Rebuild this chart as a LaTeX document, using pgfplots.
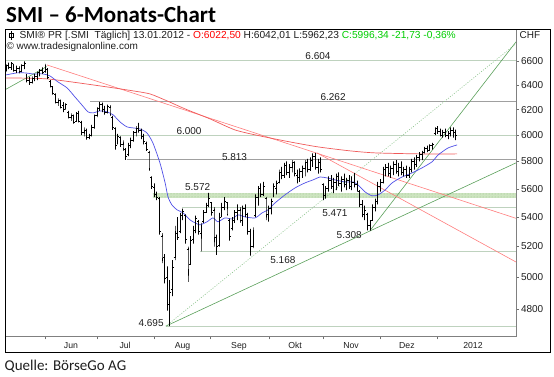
\documentclass[border=0pt]{standalone}
\usepackage{fontspec}
\setmainfont{Liberation Sans}
\newfontfamily\carlito{Carlito}
\usepackage{pgfplots}
\usepackage{pgfplotstable}
\pgfplotsset{compat=1.18}
\usetikzlibrary{patterns}

\definecolor{frameGray}{RGB}{128,128,128}
\definecolor{tickGray}{RGB}{110,110,110}
\definecolor{lvlDark}{RGB}{160,160,160}
\definecolor{lvlLight}{RGB}{190,210,190}
\definecolor{maBlue}{RGB}{80,80,230}
\definecolor{maRed}{RGB}{240,90,90}
\definecolor{trRed}{RGB}{255,125,125}
\definecolor{trGreen}{RGB}{90,160,90}
\definecolor{dotGreen}{RGB}{140,195,140}
\definecolor{bandGreen}{RGB}{205,228,192}
\definecolor{bandDot}{RGB}{150,192,140}
\definecolor{hdrRed}{RGB}{255,0,0}
\definecolor{hdrGreen}{RGB}{0,205,0}
\definecolor{txt}{RGB}{30,30,30}

\pgfplotstableread{
d o h l c
0 6520 6570 6510 6560
1 6560 6585 6530 6545
2 6545 6590 6525 6580
3 6570 6575 6510 6520
4 6520 6560 6500 6540
5 6540 6555 6495 6510
6 6510 6570 6505 6560
7 6560 6595 6530 6575
8 6480 6490 6420 6440
9 6440 6465 6400 6420
10 6420 6470 6410 6455
11 6450 6490 6430 6470
12 6470 6510 6440 6500
13 6500 6530 6470 6520
14 6520 6545 6490 6500
15 6510 6575 6500 6560
16 6530 6540 6450 6460
17 6430 6440 6380 6390
18 6380 6390 6320 6330
19 6320 6330 6250 6260
20 6260 6290 6230 6270
21 6270 6280 6210 6220
22 6230 6260 6180 6200
23 6210 6250 6200 6240
24 6180 6190 6130 6140
25 6140 6170 6110 6150
26 6150 6160 6090 6100
27 6110 6180 6110 6170
28 6170 6190 6100 6110
29 6100 6110 6000 6020
30 6020 6060 5990 6040
31 6040 6050 5965 5980
32 5980 6010 5970 6000
33 6000 6080 5990 6060
34 6060 6160 6050 6150
35 6150 6220 6140 6210
36 6210 6262 6190 6240
37 6240 6255 6180 6200
38 6200 6230 6160 6180
39 6180 6240 6170 6225
40 6220 6235 6150 6160
41 6140 6150 6040 6060
42 6050 6060 5890 5920
43 5940 6010 5930 5990
44 5980 5990 5910 5930
45 5930 5960 5880 5900
46 5890 5900 5813 5840
47 5850 5940 5840 5920
48 5920 5980 5900 5960
49 5960 6030 5950 6020
50 6020 6070 5990 6050
51 6050 6095 6020 6040
52 6040 6050 5970 5990
53 5990 6010 5930 5950
54 5940 5950 5880 5890
55 5870 5880 5730 5750
56 5680 5690 5600 5620
57 5610 5640 5540 5560
58 5560 5580 5520 5540
59 5530 5540 5280 5300
60 5270 5290 5090 5120
61 5130 5150 4960 4990
62 5000 5070 4790 4830
63 4840 4980 4695 4900
64 4920 5110 4880 5060
65 5130 5340 5110 5300
66 5290 5400 5244 5260
67 5300 5430 5290 5410
68 5420 5460 5380 5440
69 5410 5420 5220 5250
70 5180 5200 4970 5050
71 5080 5270 5080 5240
72 5250 5340 5220 5310
73 5310 5410 5290 5390
74 5370 5380 5280 5300
75 5290 5360 5168 5340
76 5370 5450 5360 5430
77 5430 5500 5430 5480
78 5480 5572 5470 5530
79 5500 5500 5410 5430
80 5450 5470 5200 5260
81 5260 5280 5145 5200
82 5210 5430 5200 5400
83 5410 5500 5400 5470
84 5470 5540 5450 5510
85 5500 5500 5410 5420
86 5380 5390 5240 5270
87 5320 5400 5310 5380
88 5380 5450 5360 5430
89 5430 5490 5380 5450
90 5450 5470 5360 5380
91 5380 5480 5340 5460
92 5460 5490 5400 5420
93 5420 5430 5280 5300
94 5300 5320 5140 5200
95 5200 5330 5190 5310
96 5410 5560 5400 5540
97 5540 5620 5480 5600
98 5600 5640 5540 5560
99 5560 5650 5550 5620
100 5530 5540 5380 5420
101 5420 5480 5370 5460
102 5460 5530 5420 5510
103 5550 5640 5540 5620
104 5600 5660 5560 5640
105 5650 5740 5640 5720
106 5720 5760 5670 5700
107 5700 5790 5680 5770
108 5770 5800 5700 5720
109 5720 5780 5680 5760
110 5760 5810 5720 5790
111 5790 5800 5690 5710
112 5700 5740 5640 5680
113 5680 5750 5650 5730
114 5730 5770 5680 5750
115 5750 5810 5690 5790
116 5790 5820 5720 5740
117 5740 5830 5730 5810
118 5800 5860 5760 5840
119 5840 5865 5740 5760
120 5760 5820 5710 5790
121 5790 5830 5720 5740
122 5630 5640 5520 5550
123 5550 5620 5530 5600
124 5600 5690 5580 5660
125 5660 5700 5600 5620
126 5620 5680 5570 5650
127 5650 5710 5590 5690
128 5690 5720 5620 5640
129 5640 5690 5580 5670
130 5670 5710 5610 5630
131 5630 5680 5590 5660
132 5660 5700 5600 5620
133 5620 5690 5590 5650
134 5650 5716 5610 5630
135 5630 5660 5580 5600
136 5580 5590 5470 5490
137 5490 5520 5400 5420
138 5420 5480 5380 5450
139 5420 5430 5310 5340
140 5340 5380 5308 5360
141 5380 5490 5380 5470
142 5470 5530 5440 5510
143 5510 5650 5490 5620
144 5620 5670 5580 5650
145 5650 5760 5640 5740
146 5740 5780 5690 5760
147 5760 5790 5690 5710
148 5710 5770 5680 5750
149 5750 5800 5700 5780
150 5780 5810 5710 5730
151 5730 5790 5690 5760
152 5760 5800 5700 5720
153 5720 5760 5690 5740
154 5740 5770 5680 5700
155 5700 5760 5680 5740
156 5740 5820 5720 5800
157 5800 5830 5740 5780
158 5780 5850 5760 5830
159 5830 5870 5800 5850
160 5850 5880 5810 5870
161 5870 5910 5860 5900
162 5900 5920 5870 5880
163 5880 5930 5880 5920
164 5920 5940 5890 5930
165 6010 6060 6000 6050
166 6050 6070 6010 6030
167 6030 6050 5990 6000
168 6000 6040 5980 6020
169 6020 6050 5985 5995
170 5995 6030 5970 6010
171 6010 6060 5990 6040
172 6040 6060 5980 6020
173 6022.50 6042.01 5962.23 5996.34
}\ohlc

\pgfplotsset{ohlcbar/.style={black, line width=0.85pt, forget plot, mark=none}}
\tikzset{lbl/.style={font=\fontsize{10}{12}\selectfont, text=txt, inner sep=0pt}}

\begin{document}
\begin{tikzpicture}
\path[use as bounding box] (0pt,0pt) rectangle (554pt,377pt);
\node[anchor=base west, inner sep=0pt, font=\carlito\bfseries\fontsize{23}{27}\selectfont, text=black] at (6pt,354pt) {SMI – 6-Monats-Chart};
\node[anchor=base west, inner sep=0pt, font=\carlito\fontsize{15}{18}\selectfont, text=txt] at (4.5pt,6pt) {Quelle: BörseGo AG};

\begin{axis}[
  at={(5pt,40.5pt)}, anchor=south west,
  width=511pt, height=307pt, scale only axis,
  xmin=-0.385, xmax=196.15,
  ymode=log, ymin=4633.4, ymax=6872.4,
  axis line style={draw=frameGray, line width=0.8pt},
  minor tick num=0, xminorticks=false, yminorticks=false,
  tick align=outside, major tick length=3pt,
  tick style={draw=tickGray, line width=0.6pt},
  ytick={4800,5000,5200,5400,5600,5800,6000,6200,6400,6600},
  yticklabels={4800,5000,5200,5400,5600,5800,6000,6200,6400,6600},
  ytick pos=right, yticklabel pos=right,
  y tick label style={font=\fontsize{10}{12}\selectfont, text=txt, xshift=-1.5pt},
  xtick={15.0,35.27,56.92,78.73,101.27,121.92,143.85,165.77},
  xticklabels={{},{},{},{},{},{},{},{}},
  xtick pos=bottom,
  extra x ticks={25.0,45.8,67.9,89.6,111.2,132.7,154.2,179.6},
  extra x tick labels={Jun,Jul,Aug,Sep,Okt,Nov,Dez,2012},
  extra x tick style={major tick length=0pt, tick label style={font=\fontsize{8.7}{10}\selectfont, text=txt, yshift=-2.5pt}},
]
% support band
\addplot[draw=none, fill=bandGreen, forget plot] coordinates {(56.5,5533) (196.15,5533) (196.15,5572) (56.5,5572)} -- cycle;
\addplot[draw=none, pattern=dots, pattern color=bandDot, forget plot] coordinates {(56.5,5533) (196.15,5533) (196.15,5572) (56.5,5572)} -- cycle;
% horizontal levels
\addplot[lvlLight, line width=0.7pt, forget plot] coordinates {(-0.385,6604) (196.15,6604)};
\addplot[lvlDark, line width=0.7pt, forget plot] coordinates {(32.3,6262) (196.15,6262)};
\addplot[lvlLight, line width=0.7pt, forget plot] coordinates {(-0.385,6000) (196.15,6000)};
\addplot[lvlDark, line width=0.7pt, forget plot] coordinates {(46.5,5813) (196.15,5813)};
\addplot[lvlLight, line width=0.7pt, forget plot] coordinates {(67.7,5471) (196.15,5471)};
\addplot[lvlLight, line width=0.7pt, forget plot] coordinates {(74.6,5168) (196.15,5168)};
\addplot[lvlLight, line width=0.7pt, forget plot] coordinates {(61.5,4695) (196.15,4695)};
% trend lines
\addplot[trGreen, line width=0.6pt, forget plot] coordinates {(-0.385,6360) (15.65,6552)};
\addplot[trGreen, line width=0.6pt, forget plot] coordinates {(61.5,4695) (196.15,5790)};
\addplot[dotGreen, line width=0.6pt, dash pattern=on 1pt off 1.5pt, forget plot] coordinates {(61.5,4695) (196.15,6747)};
\addplot[trGreen, line width=0.6pt, forget plot] coordinates {(140,5308) (196.15,6763)};
\addplot[trRed, line width=0.6pt, forget plot] coordinates {(15.77,6566) (196.15,5392)};
\addplot[trRed, line width=0.6pt, forget plot] coordinates {(119.6,5865) (196.15,5098)};
% slow moving average (red)
\addplot[maRed, line width=0.7pt, smooth, tension=0.4, forget plot] coordinates {
(0,6457) (15.8,6449) (36.2,6391) (48.8,6351) (55.4,6326) (61.9,6270) (68.8,6206) (78.5,6126) (88.1,6040) (97.7,5994) (109.2,5948) (120,5910) (132.3,5880) (141.9,5865) (159.2,5857) (173.5,5857)};
% fast moving average (blue)
\addplot[maBlue, line width=0.7pt, smooth, tension=0.4, forget plot] coordinates {
(0,6482) (4.2,6499) (7.3,6499) (10.4,6491) (14.2,6491) (16.9,6474) (20,6424) (23.5,6375) (26.5,6302) (29.2,6237) (31.5,6182) (33.5,6174) (36.2,6190) (38.8,6182) (41.2,6158) (43.8,6103) (46.5,6064) (48.8,6056) (51.5,6048) (54.2,6017) (56.5,5940) (59.2,5790) (61.2,5643) (62.3,5543) (63.8,5486) (65.8,5451) (68.1,5430) (70.8,5381) (72.7,5361) (74.6,5347) (77.3,5368) (79.6,5395) (81.5,5368) (84.2,5395) (86.9,5388) (89.2,5416) (91.9,5402) (95.8,5395) (98.5,5430) (100.8,5451) (103.5,5500) (107.3,5557) (111.2,5607) (115,5643) (118.1,5665) (120.8,5686) (123.5,5679) (126.5,5665) (130.4,5650) (133.5,5650) (135.4,5628) (138.1,5578) (140.8,5550) (143.1,5557) (145.8,5592) (148.5,5643) (152.3,5686) (156.2,5716) (160,5753) (163.8,5797) (166.2,5849) (170,5902) (173.5,5925)};
% OHLC bars
\pgfplotsforeachungrouped \i in {0,...,173}{%
  \pgfplotstablegetelem{\i}{d}\of\ohlc \let\vd\pgfplotsretval
  \pgfplotstablegetelem{\i}{o}\of\ohlc \let\vo\pgfplotsretval
  \pgfplotstablegetelem{\i}{h}\of\ohlc \let\vh\pgfplotsretval
  \pgfplotstablegetelem{\i}{l}\of\ohlc \let\vl\pgfplotsretval
  \pgfplotstablegetelem{\i}{c}\of\ohlc \let\vc\pgfplotsretval
  \pgfmathsetmacro\va{\vd-0.5}%
  \pgfmathsetmacro\vb{\vd+0.5}%
  \edef\tmp{\noexpand\addplot[ohlcbar] coordinates {(\va,\vo) (\vd,\vo) (\vd,\vh) (\vd,\vl) (\vd,\vc) (\vb,\vc)};}%
  \tmp
}
% level labels
\node[lbl] at (axis cs:120.0,6642) {6.604};
\node[lbl] at (axis cs:125.8,6302) {6.262};
\node[lbl] at (axis cs:70.4,6033) {6.000};
\node[lbl] at (axis cs:87.9,5834) {5.813};
\node[lbl] at (axis cs:73.7,5614) {5.572};
\node[lbl] at (axis cs:126.5,5428) {5.471};
\node[lbl] at (axis cs:132.0,5278) {5.308};
\node[lbl] at (axis cs:106.5,5112) {5.168};
\node[lbl] at (axis cs:55.8,4716) {4.695};
\end{axis}

% outer frame
\draw[black, line width=0.9pt] (5pt,25pt) rectangle (550pt,347.5pt);
% header
\draw[black, line width=0.5pt] (9.5pt,339.5pt) rectangle (13.5pt,343.5pt);
\draw[black, line width=0.5pt] (11.5pt,337pt) -- (11.5pt,346pt);
\node[anchor=base west, inner sep=0pt, font=\fontsize{10.2}{12}\selectfont, text=txt] at (19.4pt,338.4pt)
  {SMI® PR [.SMI\ \ Täglich] 13.01.2012 - \textcolor{hdrRed}{O:6022,50} H:6042,01 L:5962,23 \textcolor{hdrGreen}{C:5996,34 -21,73 -0,36\%}};
\node[anchor=base west, inner sep=0pt, font=\fontsize{10}{12}\selectfont, text=txt] at (6.4pt,327.4pt) {© www.tradesignalonline.com};
\node[anchor=base west, inner sep=0pt, font=\fontsize{10}{12}\selectfont, text=txt] at (519.5pt,338.4pt) {CHF};
\end{tikzpicture}
\end{document}
